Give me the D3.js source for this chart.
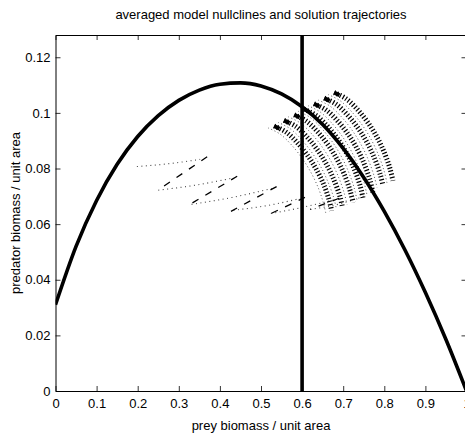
<!DOCTYPE html>
<html><head><meta charset="utf-8">
<script src="https://cdn.jsdelivr.net/npm/d3@7"></script>
<style>
body{margin:0;background:#fff;overflow:hidden}
svg{display:block}
text{font-family:"Liberation Sans",Arial,sans-serif;fill:#000}
</style></head><body>
<script>
// ---------- data ----------
const title = "averaged model nullclines and solution trajectories";
const xLabel = "prey biomass / unit area";
const yLabel = "predator biomass / unit area";
const xDomain = [0, 1];
const yDomain = [0, 0.128];
const xTicks = [0, 0.1, 0.2, 0.3, 0.4, 0.5, 0.6, 0.7, 0.8, 0.9, 1];
const xTickLabels = ["0", "0.1", "0.2", "0.3", "0.4", "0.5", "0.6", "0.7", "0.8", "0.9", "1"];
const yTicks = [0, 0.02, 0.04, 0.06, 0.08, 0.1, 0.12];
const yTickLabels = ["0", "0.02", "0.04", "0.06", "0.08", "0.1", "0.12"];

// prey nullcline (hump)
const nullPreyX = [0, 0.05, 0.1, 0.15, 0.2, 0.25, 0.3, 0.35, 0.4, 0.45, 0.5, 0.55, 0.6, 0.65, 0.7, 0.75, 0.8, 0.85, 0.9, 0.95, 1.0];
const nullPreyY = [0.031, 0.052, 0.0685, 0.0815, 0.0915, 0.099, 0.1045, 0.1082, 0.1103, 0.1108, 0.1097, 0.1068, 0.1022, 0.0958, 0.0872, 0.0768, 0.0646, 0.0508, 0.0354, 0.0185, 0.0];
// predator nullcline (vertical)
const nullPredX = 0.6;

// sawtooth trajectory pieces (left part)
const dottedPieces = [
  [[0.198, 0.0807], [0.28, 0.0818], [0.352, 0.0833]],
  [[0.250, 0.0722], [0.34, 0.0740], [0.429, 0.0765]],
  [[0.331, 0.0671], [0.43, 0.0696], [0.526, 0.0728]],
  [[0.433, 0.0650], [0.52, 0.0668], [0.595, 0.0692]],
  [[0.524, 0.0638], [0.60, 0.0660], [0.680, 0.0688]],
  [[0.620, 0.0653], [0.69, 0.0672], [0.750, 0.0700]]
];
const dashedPieces = [
  [[0.369, 0.0842], [0.253, 0.0726]],
  [[0.442, 0.0772], [0.327, 0.0671]],
  [[0.538, 0.0735], [0.427, 0.0646]],
  [[0.607, 0.0696], [0.524, 0.0638]],
  [[0.690, 0.0693], [0.620, 0.0653]]
];

// dense trajectory bands near the equilibrium
const bands = [
  [[0.678,0.1073],[0.707,0.1051],[0.736,0.1010],[0.763,0.0959],[0.785,0.0905],[0.802,0.0850],[0.814,0.0799],[0.821,0.0756]],
  [[0.654,0.1053],[0.683,0.1031],[0.712,0.0990],[0.739,0.0939],[0.761,0.0885],[0.778,0.0830],[0.790,0.0779],[0.797,0.0738]],
  [[0.629,0.1033],[0.658,0.1011],[0.687,0.0970],[0.714,0.0919],[0.736,0.0865],[0.753,0.0810],[0.765,0.0759],[0.772,0.0715]],
  [[0.605,0.1013],[0.634,0.0991],[0.663,0.0950],[0.690,0.0899],[0.712,0.0845],[0.729,0.0790],[0.741,0.0739],[0.748,0.0695]],
  [[0.581,0.0993],[0.610,0.0971],[0.639,0.0930],[0.666,0.0879],[0.688,0.0825],[0.705,0.0770],[0.717,0.0719],[0.724,0.0678]],
  [[0.556,0.0973],[0.585,0.0951],[0.614,0.0910],[0.641,0.0859],[0.663,0.0805],[0.680,0.0750],[0.692,0.0700],[0.698,0.0662]],
  [[0.532,0.0953],[0.561,0.0931],[0.590,0.0890],[0.617,0.0839],[0.639,0.0785],[0.656,0.0730],[0.666,0.0685],[0.672,0.0648]]
];

// ---------- layout ----------
const W = 465, H = 437;
const m = {left: 55.5, top: 35, right: 466.5, bottom: 391};
const svg = d3.select("body").append("svg").attr("width", W).attr("height", H);

const x = d3.scaleLinear().domain(xDomain).range([m.left, m.right]);
const y = d3.scaleLinear().domain(yDomain).range([m.bottom, m.top]);

svg.append("defs").append("clipPath").attr("id", "clip")
  .append("rect").attr("x", m.left).attr("y", m.top)
  .attr("width", m.right - m.left).attr("height", m.bottom - m.top);

const plot = svg.append("g").attr("clip-path", "url(#clip)");

// sawtooth dotted pieces
const curvedLine = d3.line().x(d => x(d[0])).y(d => y(d[1])).curve(d3.curveMonotoneX);
const straightLine = d3.line().x(d => x(d[0])).y(d => y(d[1]));
plot.selectAll(".dot").data(dottedPieces).join("path")
  .attr("d", curvedLine)
  .attr("fill", "none").attr("stroke", "#444").attr("stroke-width", 1.1)
  .attr("stroke-dasharray", "1,3.5");
// sawtooth dashed pieces
plot.selectAll(".dash").data(dashedPieces).join("path")
  .attr("d", straightLine)
  .attr("fill", "none").attr("stroke", "#000").attr("stroke-width", 1.3)
  .attr("stroke-dasharray", "7,8");

// bands: dotted companions
const bandLine = d3.line().x(d => x(d[0])).y(d => y(d[1])).curve(d3.curveCatmullRom);
plot.selectAll(".bandDot").data(bands).join("path")
  .attr("d", bandLine)
  .attr("transform", "translate(-6,2)")
  .attr("fill", "none").attr("stroke", "#555").attr("stroke-width", 1)
  .attr("stroke-dasharray", "1,2.5");
// bands: hatch strokes
plot.selectAll(".band").data(bands).join("path")
  .attr("d", bandLine)
  .attr("fill", "none").attr("stroke", "#000").attr("stroke-width", 5)
  .attr("stroke-dasharray", "1.2,2");
// band caps (dense start)
plot.selectAll(".cap").data(bands).join("path")
  .attr("d", d => {
    const p0 = [x(d[0][0]), y(d[0][1])], p1 = [x(d[1][0]), y(d[1][1])];
    const pm = d3.interpolate(p0, p1)(0.45);
    return "M" + p0 + "L" + pm;
  })
  .attr("fill", "none").attr("stroke", "#000").attr("stroke-width", 4);

// prey nullcline
const nullData = nullPreyX.map((v, i) => [v, nullPreyY[i]]);
plot.append("path").datum(nullData)
  .attr("d", curvedLine)
  .attr("fill", "none").attr("stroke", "#000").attr("stroke-width", 3.6);
// predator nullcline
plot.append("line")
  .attr("x1", x(nullPredX)).attr("x2", x(nullPredX))
  .attr("y1", y(yDomain[0])).attr("y2", y(yDomain[1]))
  .attr("stroke", "#000").attr("stroke-width", 3.6);

// ---------- axes ----------
const fs = "13px";
const axB = svg.append("g").attr("transform", `translate(0,${m.bottom})`)
  .call(d3.axisBottom(x).tickValues(xTicks).tickFormat((d, i) => xTickLabels[i]).tickSize(-5).tickSizeOuter(0).tickPadding(8));
const axT = svg.append("g").attr("transform", `translate(0,${m.top})`)
  .call(d3.axisTop(x).tickValues(xTicks).tickFormat("").tickSize(-5).tickSizeOuter(0));
const axL = svg.append("g").attr("transform", `translate(${m.left},0)`)
  .call(d3.axisLeft(y).tickValues(yTicks).tickFormat((d, i) => yTickLabels[i]).tickSize(-5).tickSizeOuter(0).tickPadding(5));
const axR = svg.append("g").attr("transform", `translate(${m.right},0)`)
  .call(d3.axisRight(y).tickValues(yTicks).tickFormat("").tickSize(-5).tickSizeOuter(0));
[axB, axT, axL, axR].forEach(g => {
  g.selectAll("path.domain").attr("stroke", "#000").attr("stroke-width", 1);
  g.selectAll(".tick line").attr("stroke", "#000").attr("stroke-width", 0.8);
  g.selectAll("text").attr("font-size", fs).attr("font-family", null).style("fill", "#000");
});

// titles
svg.append("text").attr("x", (m.left + m.right) / 2).attr("y", 19)
  .attr("text-anchor", "middle").attr("font-size", fs).text(title);
svg.append("text").attr("x", (m.left + m.right) / 2).attr("y", 430)
  .attr("text-anchor", "middle").attr("font-size", fs).text(xLabel);
svg.append("text").attr("transform", `translate(20,${(m.top + m.bottom) / 2}) rotate(-90)`)
  .attr("text-anchor", "middle").attr("font-size", fs).text(yLabel);
</script>
</body></html>
